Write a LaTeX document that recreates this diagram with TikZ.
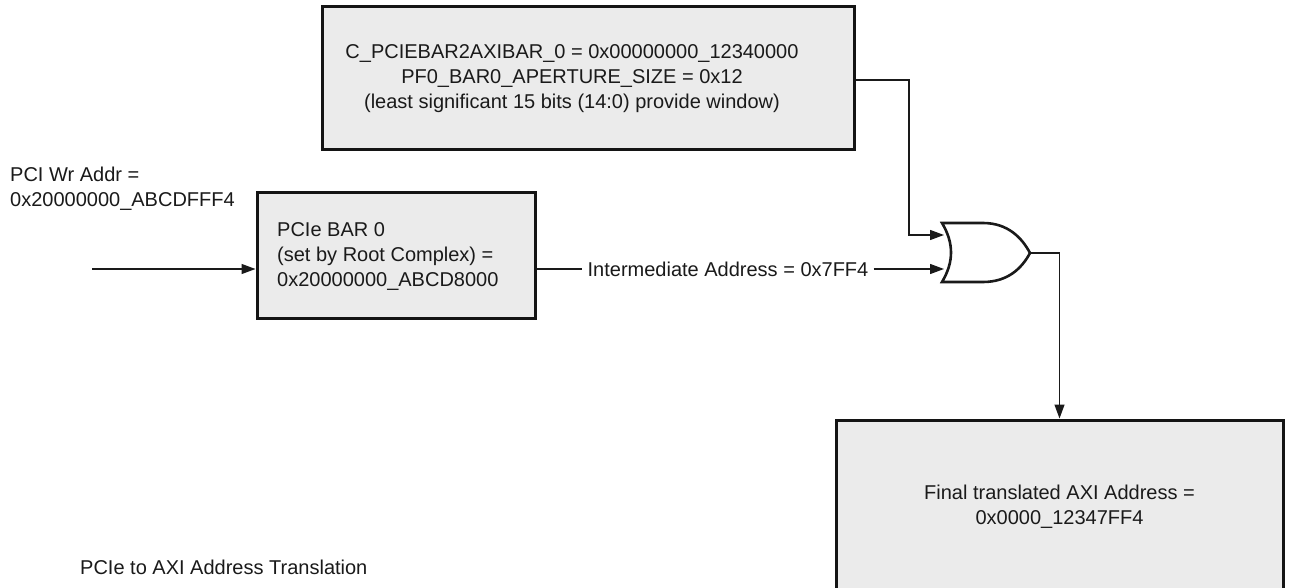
\documentclass[tikz,border=0pt]{standalone}
\usepackage{fontspec}
\setmainfont{Liberation Sans}
\usetikzlibrary{arrows.meta,calc}
\definecolor{boxfill}{HTML}{EBEBEB}
\definecolor{boxline}{HTML}{141414}
\definecolor{ink}{HTML}{1A1A1A}
\tikzset{
  box/.style={draw=boxline, line width=3pt, fill=boxfill, inner sep=0pt},
  conn/.style={line width=1.3pt, draw=ink},
  arr/.style={conn, -{Triangle[length=14pt,width=10pt]}},
  txt/.style={font=\fontsize{20}{25}\selectfont, text=ink, inner sep=0pt},
  gate/.style={draw=ink, line width=2.6pt, fill=white, line join=miter},
}
\begin{document}
\begin{tikzpicture}[x=1pt,y=-1pt]
\useasboundingbox (0,0) rectangle (1291,588);
\clip (0,0) rectangle (1291,588);
\fill[white] (0,0) rectangle (1291,588);

% boxes
\node[box, minimum width=532pt, minimum height=143pt] (top) at (588,78.5) {};
\node[txt, align=center] (toptext) at (572,79) {C\_PCIEBAR2AXIBAR\_0 = 0x00000000\_12340000\\PF0\_BAR0\_APERTURE\_SIZE = 0x12\\(least significant 15 bits (14:0) provide window)};

\node[box, minimum width=278pt, minimum height=125pt] (bar) at (396,255.5) {};
\node[txt, align=left, anchor=west] (bartext) at (277,257) {PCIe BAR 0\\(set by Root Complex) =\\0x20000000\_ABCD8000};

\node[box, minimum width=447pt, minimum height=180pt] (final) at (1059.5,510) {};
\node[txt, align=center] (finaltext) at (1059.5,506.5) {Final translated AXI Address =\\0x0000\_12347FF4};

% free texts
\node[txt, align=left, anchor=west] (wraddr) at (10,189) {PCI Wr Addr =\\0x20000000\_ABCDFFF4};
\node[txt, anchor=west] (title) at (80,567) {PCIe to AXI Address Translation};

% OR gate
\draw[gate] (942,223) -- (983,223) .. controls (1008,223) and (1022,238) .. (1030,253)
  .. controls (1022,268) and (1008,282) .. (983,282) -- (942,282)
  .. controls (954,262) and (954,243) .. cycle;
\coordinate (gin1) at (944,235);
\coordinate (gin2) at (944,269);
\coordinate (gout) at (1030,253);

% connectors
\coordinate (pciin) at (92,269);
\draw[arr] (pciin) -- (pciin -| bar.west);

\node[txt, inner xsep=5pt] (lbl) at (728,269) {Intermediate Address = 0x7FF4};
\draw[conn] (bar.east |- gin2) -- (lbl.west |- gin2);
\draw[arr] (lbl.east |- gin2) -- (gin2);

\coordinate (b1) at (909,235);
\draw[arr] ($(top.east)+(0,1.5)$) -| (b1) -- (gin1);

\draw[arr] (gout) -| (final.north);
\end{tikzpicture}
\end{document}
